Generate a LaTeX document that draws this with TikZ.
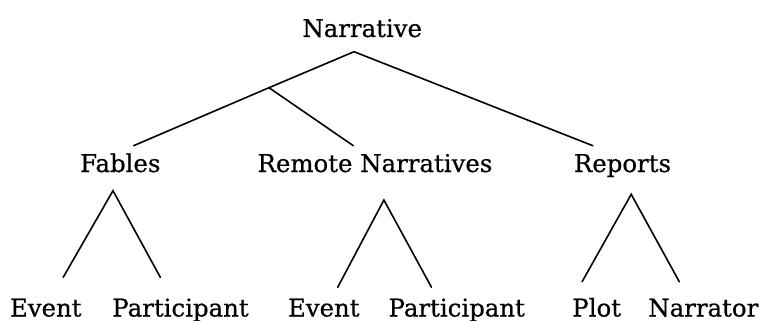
\documentclass[tikz,border=0pt]{standalone}
\usepackage{fontspec}
\setmainfont{DejaVu Serif}[FakeBold=0.6]
\begin{document}
\begin{tikzpicture}[x=1pt,y=-1pt,
    term/.style={font=\fontsize{24.4}{28}\selectfont, anchor=base, inner sep=0pt},
    branch/.style={line width=1.6pt, line cap=round}]
\useasboundingbox (0,0) rectangle (761,321);

% labels
\node[term] (nar)  at (362.2,37)  {Narrative};
\node[term] (fab)  at (120.3,172) {Fables};
\node[term] (rem)  at (375,172)   {Remote Narratives};
\node[term] (rep)  at (622.5,172) {Reports};
\node[term] (ev1)  at (45.8,316.5)  {Event};
\node[term] (pa1)  at (180.5,316.5) {Participant};
\node[term] (ev2)  at (323.8,316.5) {Event};
\node[term] (pa2)  at (456.7,316.5) {Participant};
\node[term] (plt)  at (596.7,316.5) {Plot};
\node[term] (nrr)  at (703.3,316.5) {Narrator};

% branch points and line ends
\coordinate (narTop) at (354,51.7);
\coordinate (fork)   at (269,87.7);
\coordinate (fabEnd) at (133.6,145.7);
\coordinate (remEnd) at (353.3,145.7);
\coordinate (repEnd) at (592.8,145.7);

\coordinate (fabTop) at (113,190.7);
\coordinate (ev1End) at (63.2,277.3);
\coordinate (pa1End) at (160.3,277.3);

\coordinate (remTop) at (383.9,200);
\coordinate (ev2End) at (337.7,287.3);
\coordinate (pa2End) at (431.5,287.3);

\coordinate (repTop) at (631.2,194.3);
\coordinate (pltEnd) at (582.1,281.7);
\coordinate (nrrEnd) at (679.3,281.7);

% top level
\draw[branch] (fabEnd) -- (fork) -- (narTop) -- (repEnd);
\draw[branch] (fork) -- (remEnd);

% second level
\draw[branch] (ev1End) -- (fabTop) -- (pa1End);
\draw[branch] (ev2End) -- (remTop) -- (pa2End);
\draw[branch] (pltEnd) -- (repTop) -- (nrrEnd);
\end{tikzpicture}
\end{document}
